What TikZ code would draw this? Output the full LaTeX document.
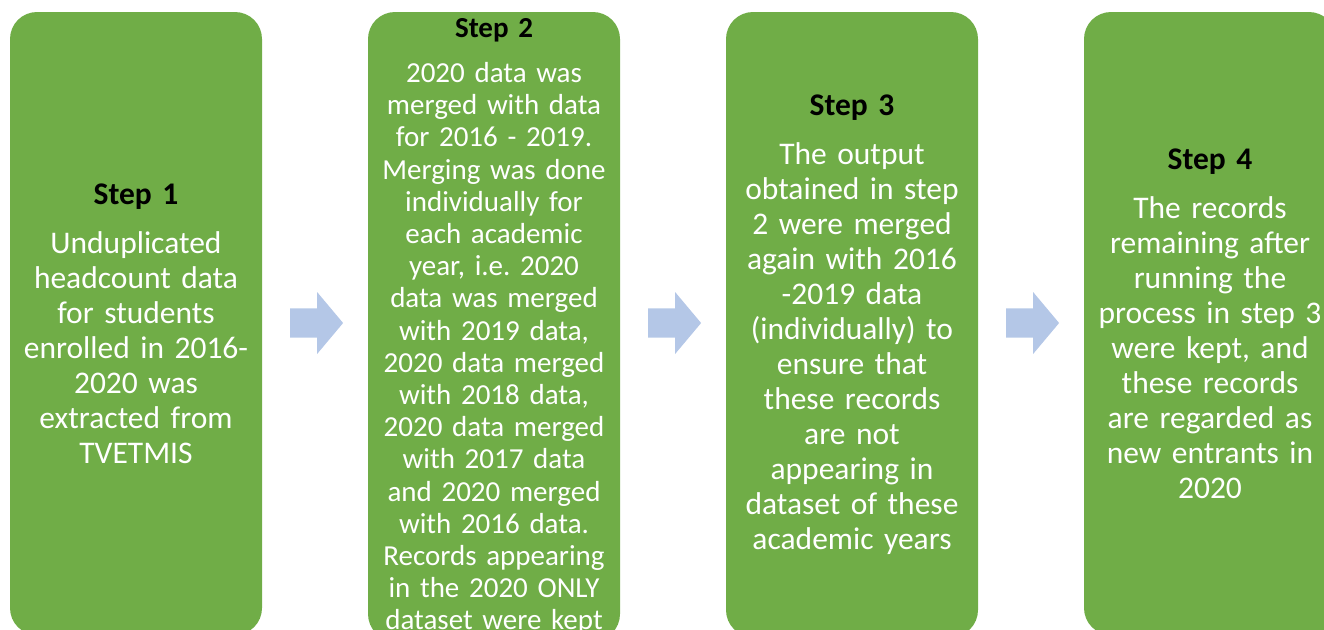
\documentclass[tikz,border=0pt]{standalone}
\usepackage{fontspec}
\setmainfont{Carlito}
\frenchspacing
\usetikzlibrary{positioning,shapes.arrows,calc}

\definecolor{boxgreen}{RGB}{112,173,71}
\definecolor{arrowblue}{RGB}{180,199,231}

\tikzset{
  stepbox/.style={rectangle, rounded corners=13.5pt, fill=boxgreen, text=white,
    minimum width=126pt, minimum height=#1, text width=122pt, align=center,
    inner sep=0pt, outer sep=0pt, font=\fontsize{15.75pt}{17.5pt}\selectfont},
  stepbox/.default=311.5pt,
  steparrow/.style={single arrow, fill=arrowblue, minimum height=26.5pt,
    minimum width=31pt, inner xsep=0pt, inner ysep=4.875pt,
    single arrow head extend=5.75pt, single arrow tip angle=100}
}
\newcommand{\steptitle}[1]{{\bfseries\color{black}#1}\\[7pt]}

\begin{document}
\begin{tikzpicture}
    \useasboundingbox (0,0) rectangle (662pt,-314.5pt);
    \clip (0,0) rectangle (662pt,-314.5pt);
    % the four steps, tops aligned
    \node[stepbox, anchor=north] (s1) at (68pt,-6pt) {\steptitle{Step 1}
        Unduplicated\\ headcount data\\ for students\\ enrolled in 2016-\\
        2020 was\\ extracted from\\ TVETMIS};
    \node[stepbox=314.5pt, right=53pt of s1.north east, anchor=north west,
        font=\fontsize{14.5pt}{16.1pt}\selectfont] (s2) {%
        {\bfseries\color{black}Step 2}\\[6.5pt]
        2020 data was\\ merged with data\\ for 2016 - 2019.\\ Merging was done\\
        individually for\\ each academic\\ year, i.e. 2020\\ data was merged\\
        with 2019 data,\\ 2020 data merged\\ with 2018 data,\\ 2020 data merged\\
        with 2017 data\\ and 2020 merged\\ with 2016 data.\\ Records appearing\\
        in the 2020 ONLY\\ dataset were kept};
    \node[stepbox=312.5pt, right=53pt of s2.north east, anchor=north west] (s3) {\steptitle{Step 3}
        The output\\ obtained in step\\ 2 were merged\\ again with 2016\\
        -2019 data\\ (individually) to\\ ensure that\\ these records\\ are not\\
        appearing in\\ dataset of these\\ academic years};
    \node[stepbox, right=53pt of s3.north east, anchor=north west] (s4) {\steptitle{Step 4}
        The records\\ remaining after\\ running the\\ process in step 3\\
        were kept, and\\ these records\\ are regarded as\\ new entrants in\\ 2020};
    % arrows between steps
    \node[steparrow] (a1) at ($(s1.north east)!0.5!(s2.north west)+(-2.25pt,-155.5pt)$) {};
    \node[steparrow] (a2) at ($(s2.north east)!0.5!(s3.north west)+(-2.25pt,-155.5pt)$) {};
    \node[steparrow] (a3) at ($(s3.north east)!0.5!(s4.north west)+(-2.25pt,-155.5pt)$) {};
\end{tikzpicture}
\end{document}
